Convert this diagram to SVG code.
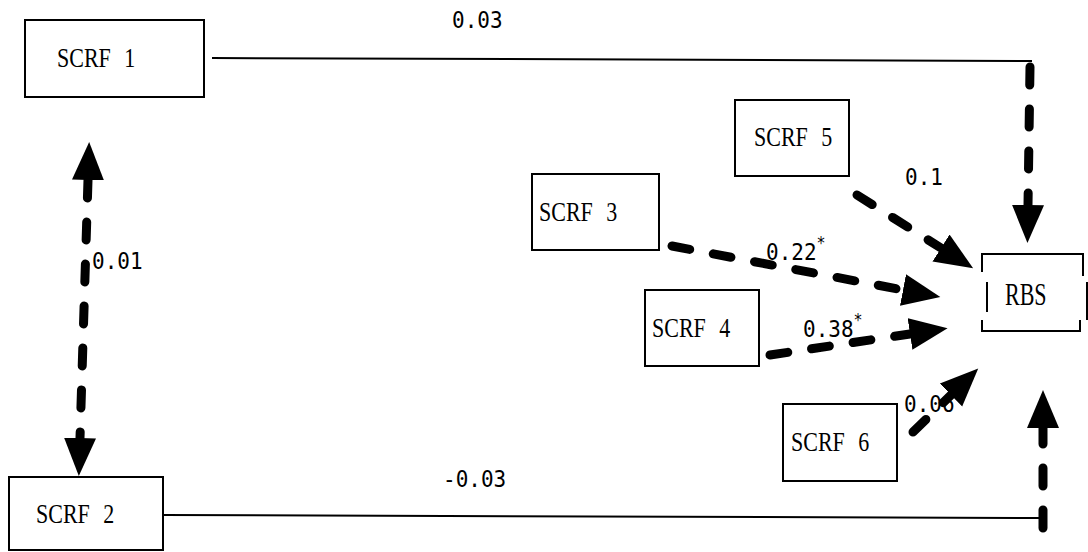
<svg xmlns="http://www.w3.org/2000/svg" width="1088" height="552" viewBox="0 0 1088 552">
<style>
.box{fill:#fff;stroke:#000;stroke-width:2}
.lbl{font-family:"Liberation Serif","Times New Roman",serif;font-size:22px;word-spacing:8px;fill:#000}
.num{font-family:"DejaVu Sans Mono","Liberation Mono",monospace;font-size:21px;fill:#000}
.sup{font-size:15px}
.solid{fill:none;stroke:#000;stroke-width:2}
.dash{fill:none;stroke:#000;stroke-width:9;stroke-linecap:round;stroke-dasharray:18 24}
</style>
<defs>
<marker id="ah" markerUnits="userSpaceOnUse" markerWidth="40" markerHeight="34" viewBox="0 0 40 34" refX="0" refY="17" orient="auto-start-reverse">
<path d="M0,1 L38,17 L0,33 Z" fill="#000"/>
</marker>
</defs>
<rect width="1088" height="552" fill="#fff"/>
<g id="connectors">
<path class="solid" d="M212,58 L1032,61"/>
<path class="dash" d="M1030,67 L1028,205" marker-end="url(#ah)"/>
<path class="solid" d="M163,515 L1043,518"/>
<path class="dash" d="M1043,528 L1043,428" marker-end="url(#ah)"/>
<path class="dash" d="M88,180 L80,438" marker-start="url(#ah)" marker-end="url(#ah)"/>
<path class="dash" d="M857,195 L941,248" marker-end="url(#ah)"/>
<path class="dash" d="M672,246 L903,290" marker-end="url(#ah)"/>
<path class="dash" d="M770,355 L910,334" marker-end="url(#ah)"/>
<path class="dash" d="M913,432 L951,395" marker-end="url(#ah)"/>
<text class="num" transform="translate(452,28) scale(1,1.12)">0.03</text>
<text class="num" transform="translate(443,487) scale(1,1.12)">-0.03</text>
<text class="num" transform="translate(92,269) scale(1,1.12)">0.01</text>
<text class="num" transform="translate(905,185) scale(1,1.12)">0.1</text>
<text class="num" transform="translate(766,260) scale(1,1.12)">0.22<tspan class="sup" dy="-10">*</tspan></text>
<text class="num" transform="translate(803,337) scale(1,1.12)">0.38<tspan class="sup" dy="-10">*</tspan></text>
<text class="num" transform="translate(904,412) scale(1,1.12)">0.06</text>
</g>
<g id="scrf1">
<rect class="box" x="25" y="20" width="179" height="77"/>
<text class="lbl" transform="translate(57,67) scale(1,1.2)">SCRF 1</text>
</g>
<g id="scrf2">
<rect class="box" x="9" y="477" width="154" height="73"/>
<text class="lbl" transform="translate(36,523) scale(1,1.2)">SCRF 2</text>
</g>
<g id="scrf3">
<rect class="box" x="532" y="174" width="127" height="76"/>
<text class="lbl" transform="translate(539,221) scale(1,1.2)">SCRF 3</text>
</g>
<g id="scrf4">
<rect class="box" x="645" y="290" width="114" height="76"/>
<text class="lbl" transform="translate(652,337) scale(1,1.2)">SCRF 4</text>
</g>
<g id="scrf5">
<rect class="box" x="735" y="100" width="114" height="76"/>
<text class="lbl" transform="translate(754,146) scale(1,1.2)">SCRF 5</text>
</g>
<g id="scrf6">
<rect class="box" x="783" y="404" width="114" height="77"/>
<text class="lbl" transform="translate(791,451) scale(1,1.2)">SCRF 6</text>
</g>
<g id="rbs">
<path class="solid" d="M982,272 V254 H1083 V276 M987,282 V312 M1087,282 V320 M982,320 V331 H1080 V320"/>
<text class="lbl" transform="translate(1005,305) scale(1,1.4)">RBS</text>
</g>
</svg>
